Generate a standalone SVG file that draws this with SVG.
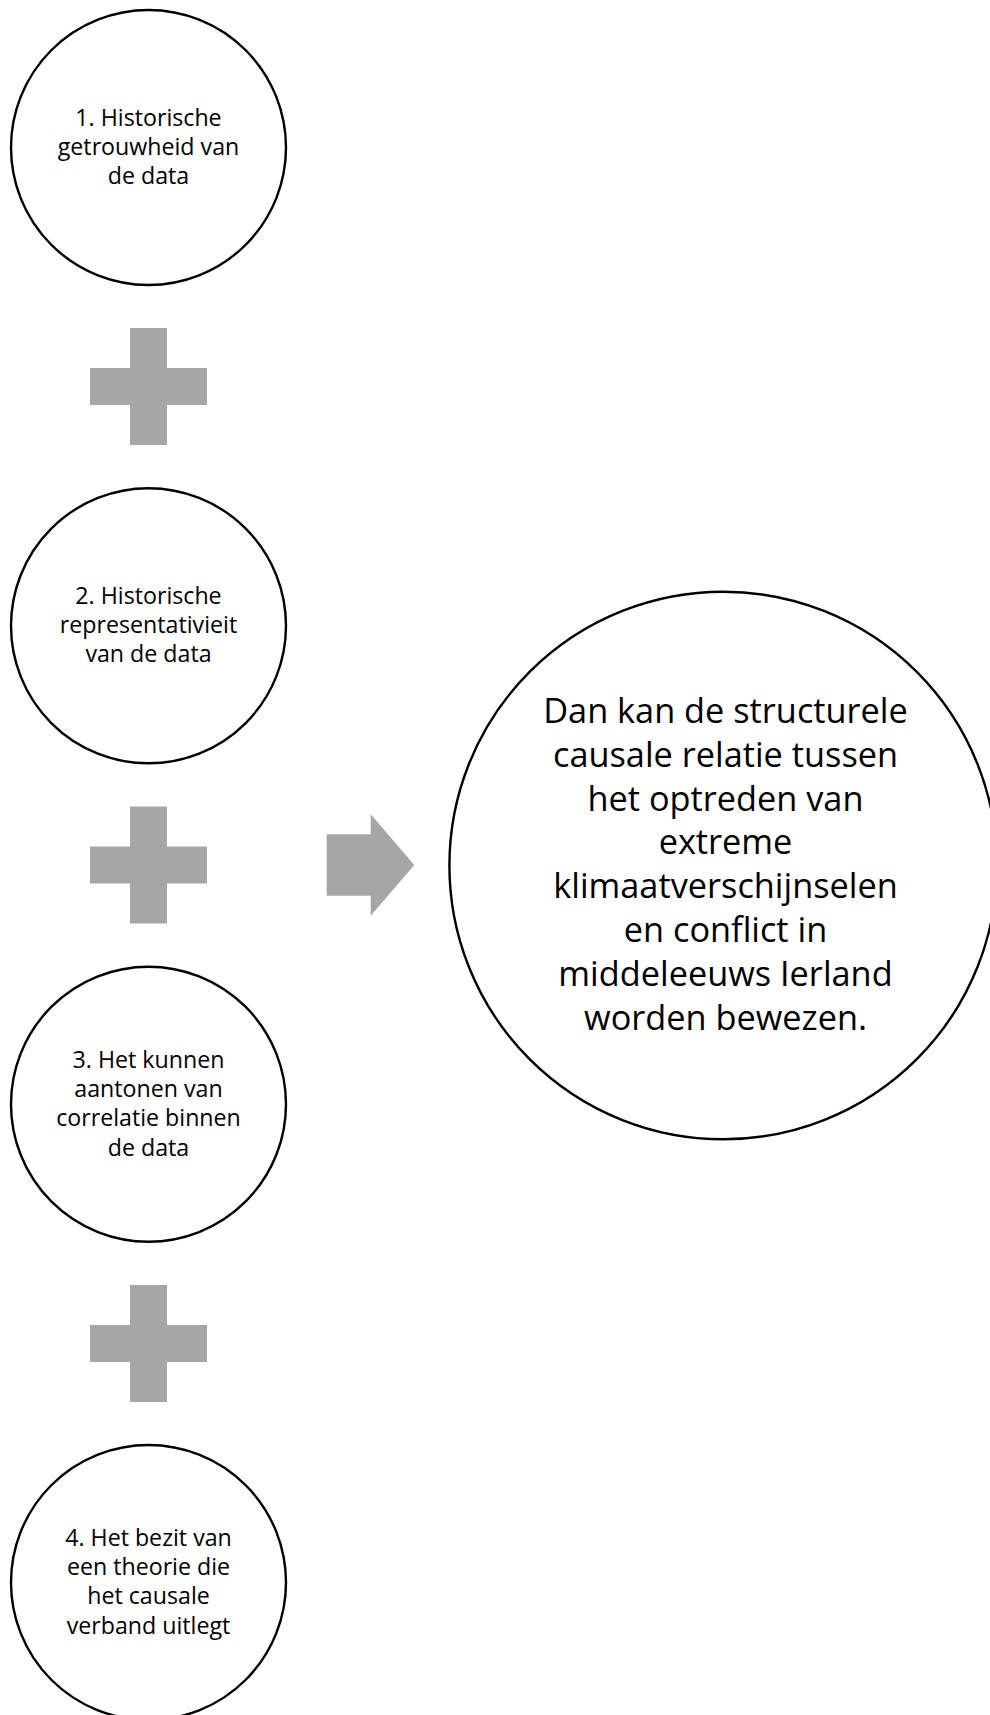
<svg xmlns="http://www.w3.org/2000/svg" width="990" height="1715" viewBox="0 0 990 1715">
<style>
.node{fill:#FFFFFF;stroke:#000000;stroke-width:2.4}
.sym{fill:#A6A6A6;stroke:none}
.t{font-family:"Open Sans","Noto Sans","Liberation Sans",sans-serif;font-size:23.2px;fill:#000000;text-anchor:middle;font-variant-ligatures:none}
.big{font-family:"Open Sans","Noto Sans","Liberation Sans",sans-serif;font-size:34.3px;fill:#000000;text-anchor:middle;font-variant-ligatures:none}
</style>
<rect width="990" height="1715" fill="#FFFFFF"/>
<g id="connectors">
<path class="sym" d="M130,328H167V368H207V405H167V445H130V405H90V368H130Z"/>
<path class="sym" d="M130,806.5H167V846.5H207V883.5H167V923.5H130V883.5H90V846.5H130Z"/>
<path class="sym" d="M130,1285H167V1325H207V1362H167V1402H130V1362H90V1325H130Z"/>
<path class="sym" d="M326.7,834.3H370.7V814.3L414.3,865L370.7,915.7V895.7H326.7Z"/>
</g>
<g id="node1">
<circle class="node" cx="148.5" cy="147.5" r="137.5"/>
<text class="t" x="148.5" y="125.8">1. Historische</text>
<text class="t" x="148.5" y="155">getrouwheid van</text>
<text class="t" x="148.5" y="184.2">de data</text>
</g>
<g id="node2">
<circle class="node" cx="148.5" cy="625.8" r="137.5"/>
<text class="t" x="148.5" y="604">2. Historische</text>
<text class="t" x="148.5" y="633.2">representativieit</text>
<text class="t" x="148.5" y="662.4">van de data</text>
</g>
<g id="node3">
<circle class="node" cx="148.5" cy="1104.2" r="137.5"/>
<text class="t" x="148.5" y="1068">3. Het kunnen</text>
<text class="t" x="148.5" y="1097.2">aantonen van</text>
<text class="t" x="148.5" y="1126.4">correlatie binnen</text>
<text class="t" x="148.5" y="1155.6">de data</text>
</g>
<g id="node4">
<circle class="node" cx="148.5" cy="1582.5" r="137.5"/>
<text class="t" x="148.5" y="1546">4. Het bezit van</text>
<text class="t" x="148.5" y="1575.2">een theorie die</text>
<text class="t" x="148.5" y="1604.4">het causale</text>
<text class="t" x="148.5" y="1633.6">verband uitlegt</text>
</g>
<g id="result">
<circle class="node" cx="723.2" cy="865.5" r="273.8"/>
<text class="big" x="725.5" y="722.7">Dan kan de structurele</text>
<text class="big" x="725.5" y="766.6">causale relatie tussen</text>
<text class="big" x="725.5" y="810.5">het optreden van</text>
<text class="big" x="725.5" y="854.4">extreme</text>
<text class="big" x="725.5" y="898.3">klimaatverschijnselen</text>
<text class="big" x="725.5" y="942.2">en conflict in</text>
<text class="big" x="725.5" y="986.1">middeleeuws Ierland</text>
<text class="big" x="725.5" y="1030">worden bewezen.</text>
</g>
</svg>
